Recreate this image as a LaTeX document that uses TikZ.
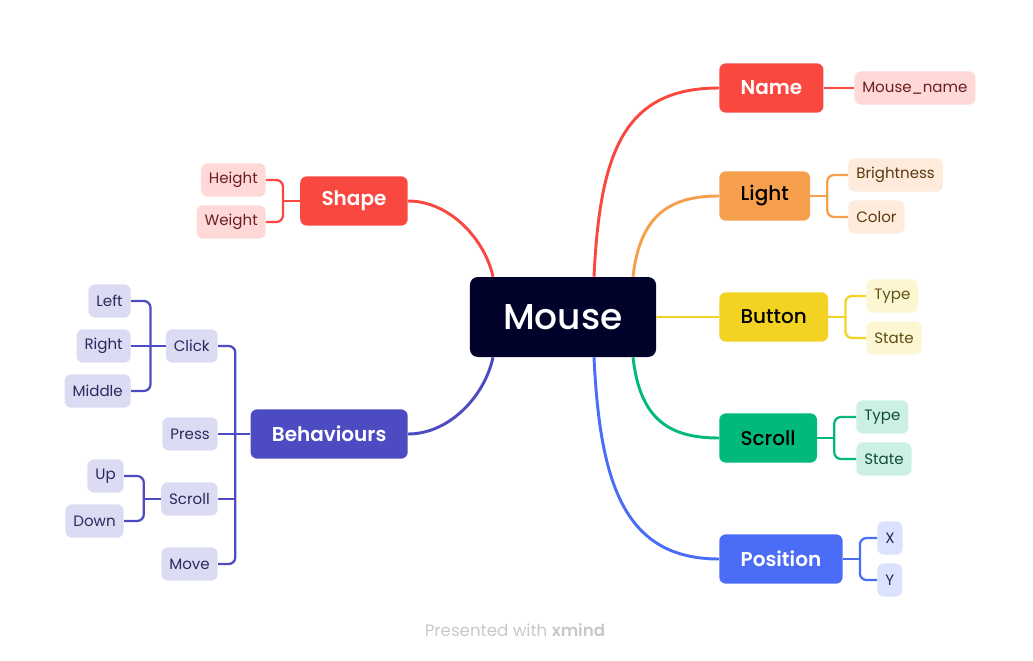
\documentclass[tikz,border=0pt]{standalone}
\usepackage{fontspec}
\setmainfont{Poppins}
\newfontfamily\semib{Poppins SemiBold}
\newfontfamily\medm{Poppins Medium}
\usetikzlibrary{calc}
\definecolor{ink}{HTML}{000229}
\definecolor{redc}{HTML}{F94840}  \definecolor{redl}{HTML}{FED9D8}  \definecolor{redt}{HTML}{6B1F1F}
\definecolor{orac}{HTML}{F6A04D}  \definecolor{oral}{HTML}{FEEBDB}  \definecolor{orat}{HTML}{5C3A12}
\definecolor{yelc}{HTML}{F2D323}  \definecolor{yell}{HTML}{FDF6D3}  \definecolor{yelt}{HTML}{5E5012}
\definecolor{grec}{HTML}{00B97A}  \definecolor{grel}{HTML}{CCF1E4}  \definecolor{gret}{HTML}{0F4D38}
\definecolor{bluc}{HTML}{4A6CF7}  \definecolor{blul}{HTML}{DBE2FD}  \definecolor{blut}{HTML}{1F2A5C}
\definecolor{indc}{HTML}{4D4BC2}  \definecolor{indl}{HTML}{DBDBF3}  \definecolor{indt}{HTML}{2A2A5E}
\definecolor{foot}{HTML}{C8C8C8}
\tikzset{
  root/.style={fill=ink,text=white,rounded corners=6pt,minimum height=60pt,inner xsep=25pt,
    font=\fontsize{27}{30}\selectfont\medm},
  topic/.style={rounded corners=5pt,minimum height=37pt,inner xsep=16pt,
    font=\fontsize{15}{18}\selectfont\medm},
  whitetopic/.style={topic,text=white,font=\fontsize{15}{18}\selectfont\semib},
  sub/.style={rounded corners=5pt,minimum height=25pt,inner xsep=6pt,
    font=\fontsize{11.3}{14}\selectfont},
  mainline/.style={line width=2.2pt},
  subline/.style={line width=1.7pt,rounded corners=5pt},
}
\begin{document}
\begin{tikzpicture}[x=0.75pt,y=-0.75pt]
\useasboundingbox (0,0) rectangle (1033,661);
% centre
\node[root] (mouse) at (563,317) {Mouse};
% right topics
\node[whitetopic,anchor=west,fill=redc] (name) at (719,88) {Name};
\node[topic,anchor=west,fill=orac] (light) at (719,196) {Light};
\node[topic,anchor=west,fill=yelc] (button) at (719,317) {Button};
\node[topic,anchor=west,fill=grec] (scroll) at (719,438) {Scroll};
\node[whitetopic,anchor=west,fill=bluc] (position) at (719,559) {Position};
% left topics
\node[whitetopic,anchor=east,fill=redc] (shape) at (408,201) {Shape};
\node[whitetopic,anchor=east,fill=indc] (behav) at (408,434) {Behaviours};
% right subtopics
\node[sub,anchor=west,fill=redl,text=redt] (mname) at (854,88) {Mouse\_name};
\node[sub,anchor=west,fill=oral,text=orat] (bright) at (848,175) {Brightness};
\node[sub,anchor=west,fill=oral,text=orat] (color) at (848,217) {Color};
\node[sub,anchor=west,fill=yell,text=yelt] (btype) at (866,296) {Type};
\node[sub,anchor=west,fill=yell,text=yelt] (bstate) at (866,338) {State};
\node[sub,anchor=west,fill=grel,text=gret] (stype) at (856,417) {Type};
\node[sub,anchor=west,fill=grel,text=gret] (sstate) at (856,459) {State};
\node[sub,anchor=west,fill=blul,text=blut] (px) at (877,538) {X};
\node[sub,anchor=west,fill=blul,text=blut] (py) at (877,580) {Y};
% left subtopics
\node[sub,anchor=east,fill=redl,text=redt] (height) at (266,180) {Height};
\node[sub,anchor=east,fill=redl,text=redt] (weight) at (266,222) {Weight};
\node[sub,anchor=east,fill=indl,text=indt] (click) at (218,346) {Click};
\node[sub,anchor=east,fill=indl,text=indt] (press) at (218,434) {Press};
\node[sub,anchor=east,fill=indl,text=indt] (bscroll) at (218,499) {Scroll};
\node[sub,anchor=east,fill=indl,text=indt] (move) at (218,564) {Move};
\node[sub,anchor=east,fill=indl,text=indt] (left) at (131,301) {Left};
\node[sub,anchor=east,fill=indl,text=indt] (right) at (131,346) {Right};
\node[sub,anchor=east,fill=indl,text=indt] (middle) at (131,391) {Middle};
\node[sub,anchor=east,fill=indl,text=indt] (up) at (124,476) {Up};
\node[sub,anchor=east,fill=indl,text=indt] (down) at (124,521) {Down};
% main branches
\draw[mainline,redc] ($(mouse.north)+(31,0)$) .. controls +(6,-127) and +(-94,0) .. (name.west);
\draw[mainline,orac] ($(mouse.north)+(70,0)$) .. controls +(7,-62) and +(-49,0) .. (light.west);
\draw[mainline,yelc] (mouse.east) -- (button.west);
\draw[mainline,grec] ($(mouse.south)+(70,0)$) .. controls +(7,63) and +(-49,0) .. (scroll.west);
\draw[mainline,bluc] ($(mouse.south)+(31,0)$) .. controls +(6,128) and +(-94,0) .. (position.west);
\draw[mainline,redc] ($(mouse.north)+(-70,0)$) .. controls +(-8,-37) and +(42,0) .. (shape.east);
\draw[mainline,indc] ($(mouse.south)+(-70,0)$) .. controls +(-8,38) and +(42,0) .. (behav.east);
% sub branches
\draw[subline,redc] (name.east) -- (mname.west);
\draw[subline,orac] (light.east) -- ++(17,0) coordinate (lj);
\draw[subline,orac] (bright.west) -| (lj) |- (color.west);
\draw[subline,yelc] (button.east) -- ++(17,0) coordinate (bj);
\draw[subline,yelc] (btype.west) -| (bj) |- (bstate.west);
\draw[subline,grec] (scroll.east) -- ++(17,0) coordinate (sj);
\draw[subline,grec] (stype.west) -| (sj) |- (sstate.west);
\draw[subline,bluc] (position.east) -- ++(17,0) coordinate (pj);
\draw[subline,bluc] (px.west) -| (pj) |- (py.west);
\draw[subline,redc] (shape.west) -- ++(-17,0) coordinate (hj);
\draw[subline,redc] (height.east) -| (hj) |- (weight.east);
\draw[subline,indc] (behav.west) -- ++(-15,0) coordinate (vj);
\draw[subline,indc] (click.east) -| (vj) |- (move.east);
\draw[subline,indc] (press.east) -- (vj);
\draw[subline,indc] (bscroll.east) -- (vj |- bscroll.east);
\draw[subline,indc] (click.west) -- ++(-15,0) coordinate (cj);
\draw[subline,indc] (left.east) -| (cj) |- (middle.east);
\draw[subline,indc] (right.east) -- (cj);
\draw[subline,indc] (bscroll.west) -- ++(-17,0) coordinate (uj);
\draw[subline,indc] (up.east) -| (uj) |- (down.east);
% footer
\node[text=foot,font=\fontsize{12.5}{15}\selectfont] (footer) at (515,630) {Presented with {\semib xmind}};
\end{tikzpicture}
\end{document}
